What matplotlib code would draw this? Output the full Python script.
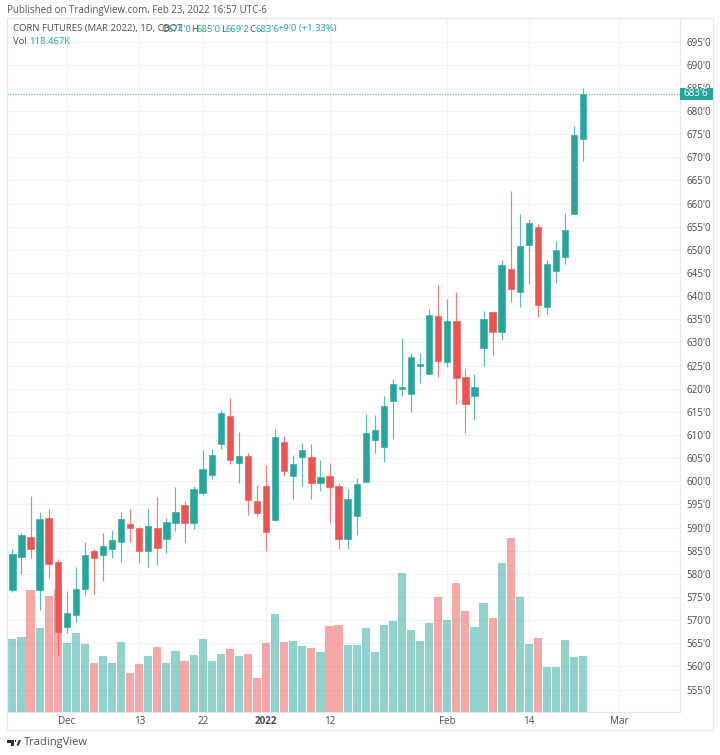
import matplotlib
matplotlib.use("Agg")
import matplotlib.pyplot as plt
from matplotlib.patches import Rectangle, Polygon, Circle

# ---- data (prices in cents, volume in thousands) ----
opens = [576.4,583.7,588.0,576.4,592.0,582.5,568.6,571.0,576.7,584.9,584.0,585.4,586.9,590.8,589.9,584.9,
         589.9,587.5,590.9,594.9,590.9,597.5,601.4,608.1,614.2,603.9,605.4,595.7,598.9,591.7,608.4,601.1,
         605.2,605.2,599.6,601.1,598.9,587.5,592.6,599.9,608.9,607.5,617.3,620.0,618.9,624.9,623.1,635.8,
         625.8,634.6,622.5,618.4,628.7,636.5,632.2,645.9,640.8,651.1,655.0,637.7,645.4,648.4,657.7,674.0]
highs = [585.4,588.8,596.8,593.3,594.1,583.3,576.3,581.5,586.8,585.4,588.8,589.5,593.3,594.1,590.2,594.0,
         596.5,592.0,598.7,595.7,598.9,606.7,606.9,615.5,618.0,610.7,606.0,599.1,603.5,611.2,609.7,605.7,
         608.2,608.0,604.6,603.9,599.7,598.3,600.7,614.5,614.3,618.4,622.0,630.9,627.7,627.7,637.3,642.4,
         639.4,640.8,624.2,623.1,636.7,636.5,647.8,662.7,657.8,656.6,655.5,647.8,652.0,658.0,676.7,685.0]
lows = [576.0,580.0,583.4,572.1,579.1,562.5,567.3,569.6,575.4,575.7,578.5,583.4,582.6,586.9,582.3,581.5,
        582.0,584.6,589.3,586.9,589.6,597.0,600.5,607.0,603.8,599.6,592.8,592.6,584.9,591.5,601.2,596.1,
        599.0,596.2,598.0,591.0,585.3,585.3,588.3,599.9,606.2,604.2,609.2,618.5,615.0,621.3,623.1,622.5,
        624.6,616.8,610.4,613.2,624.8,627.3,630.5,638.8,637.7,642.6,635.6,636.2,642.8,647.0,657.7,669.25]
closes = [584.3,588.3,585.4,591.8,582.2,567.5,571.5,576.7,584.0,583.4,586.0,587.2,591.8,589.9,584.9,590.3,
          585.6,591.1,593.3,590.9,598.3,602.6,605.7,614.7,604.6,605.4,596.0,593.2,589.1,609.5,602.2,603.7,
          606.8,599.6,601.0,598.8,587.5,596.2,599.5,610.4,611.0,616.2,621.0,620.0,626.9,625.3,635.9,625.9,
          634.7,622.4,616.6,620.4,635.1,632.2,646.7,641.6,650.9,655.8,638.0,647.0,650.0,654.2,674.8,683.75]
volumes = [154.6,158.9,257.4,178.0,245.2,259.5,145.3,168.0,144.0,103.6,117.0,103.6,146.8,82.3,100.6,117.0,
           137.6,102.1,129.1,106.4,119.8,154.6,107.8,122.7,133.4,117.0,122.7,70.2,145.3,207.8,148.3,151.0,
           138.9,134.6,127.6,180.8,185.0,140.4,140.4,178.0,127.6,185.0,192.9,295.0,172.3,151.0,187.2,242.5,
           194.2,272.3,214.2,179.3,230.4,199.3,316.9,368.0,242.5,144.0,156.8,94.2,95.7,152.5,114.9,118.467]
prior_volume = 99.3
prior_volume_x = -1
price_ticks = list(range(555, 700, 5))
price_labels = [f"{p}'0" for p in price_ticks]
time_ticks = [6, 14, 21, 28, 35, 48, 57, 67]
time_labels = ["Dec", "13", "22", "2022", "12", "Feb", "14", "Mar"]
last_price = 683.75

GREEN, RED = "#26a69a", "#ef5350"
GRID, BORDER, TEXT = "#f2f3f8", "#e6e8f0", "#4a4d57"
W, H = 720, 755
plt.rcParams["font.family"] = ["Open Sans", "DejaVu Sans"]

fig = plt.figure(figsize=(W / 100, H / 100), dpi=100, facecolor="white")
L, R, T, B = 7, 679.5, 18, 711.5
pos = [L / W, 1 - B / H, (R - L) / W, (B - T) / H]
xlim = (-0.596, 73.63)
ylim = (550.25, 700.1)

ax = fig.add_axes(pos, zorder=0)
ax_vol = fig.add_axes(pos, zorder=1, facecolor="none")
ax_c = fig.add_axes(pos, zorder=2, facecolor="none")

for a in (ax, ax_vol, ax_c):
    a.set_xlim(*xlim)
for a in (ax, ax_c):
    a.set_ylim(*ylim)
ax_vol.set_ylim(0, 1475)
for a in (ax_vol, ax_c):
    a.axis("off")

ax.set_yticks(price_ticks, price_labels)
ax.set_xticks(time_ticks, time_labels)
ax.yaxis.tick_right()
ax.tick_params(axis="both", length=0, labelsize=7.1, labelcolor=TEXT)
ax.tick_params(axis="y", pad=5.0)
ax.tick_params(axis="x", pad=3.5)
ax.grid(True, color=GRID, lw=0.8)
ax.set_axisbelow(True)
for s in ("top", "left"):
    ax.spines[s].set_visible(False)
for s in ("right", "bottom"):
    ax.spines[s].set_color(BORDER)
    ax.spines[s].set_linewidth(0.8)
for lab in ax.get_xticklabels():
    if lab.get_text() == "2022":
        lab.set_fontweight("bold")

# volume
xs = list(range(len(closes)))
vcolors = [GREEN if c >= o else RED for o, c in zip(opens, closes)]
ax_vol.bar(xs, volumes, width=0.9, color=vcolors, alpha=0.5, linewidth=0)
ax_vol.bar([prior_volume_x], [prior_volume], width=0.9, color=RED, alpha=0.5, linewidth=0)

# candles
ax_c.axhline(last_price, color=GREEN, lw=0.8, ls=(0, (1, 1.4)), alpha=0.85)
ax_c.vlines(xs, lows, highs, colors=vcolors, lw=0.85, alpha=0.75)
for x, o, c, col in zip(xs, opens, closes, vcolors):
    ax_c.bar(x, max(abs(c - o), 0.35), bottom=min(o, c), width=0.7, color=col,
             edgecolor=col, linewidth=0.4, alpha=1)

# last price tag
ytag = ax_c.transData.transform((0, last_price))[1] / H
fig.add_artist(Rectangle((R / W, ytag - 6.0 / H), 33.5 / W, 12.0 / H, transform=fig.transFigure,
                         facecolor=GREEN, edgecolor="none", zorder=5))
fig.text((R + 16.8) / W, ytag, "683'6", color="white", fontsize=7.1, ha="center", va="center", zorder=6)

# outer frame
fig.add_artist(Rectangle((L / W, 1 - 730 / H), (713 - L) / W, (730 - T) / H, transform=fig.transFigure,
                         facecolor="none", edgecolor=BORDER, linewidth=0.9, zorder=4))

# header texts
def t(x, y, s, color=TEXT, size=6.8, **kw):
    fig.text(x / W, 1 - y / H, s, color=color, fontsize=size, va="center", ha="left", zorder=7, **kw)

t(7, 10.5, "Published on TradingView.com, Feb 23, 2022 16:57 UTC-6", "#55585f", 7.0)
t(13, 29, "CORN FUTURES (MAR 2022), 1D, CBOT")
for lab_x, lab, val_x, val in [(161, "O", 167, "674'0"), (190.7, "H", 196.7, "685'0"),
                               (220.7, "L", 225.5, "669'2"), (249.3, "C", 255.5, "683'6")]:
    t(lab_x, 29, lab)
    t(val_x, 29, val, GREEN)
t(277.7, 29, "+9'0 (+1.33%)", GREEN)
t(13, 41, "Vol")
t(29.3, 41, "118.467K", GREEN)

# TradingView logo and name
px = lambda pts: [(x / W, 1 - y / H) for x, y in pts]
logo = "#2a2e39"
for pts in ([(7, 740), (14, 740), (14, 745.5), (11, 745.5), (11, 742.5), (7, 742.5)],
            [(16.5, 745.5), (18.8, 740), (21, 740), (18.8, 745.5)]):
    fig.add_artist(Polygon(px(pts), closed=True, transform=fig.transFigure, facecolor=logo, edgecolor="none"))
fig.add_artist(Rectangle((14.6 / W, 1 - 742.2 / H), 1.8 / W, 2.0 / H, transform=fig.transFigure,
                         facecolor=logo, edgecolor="none"))
t(23.5, 743, "TradingView", "#50535e", 8.0)

fig.savefig("out.png", dpi=100)
